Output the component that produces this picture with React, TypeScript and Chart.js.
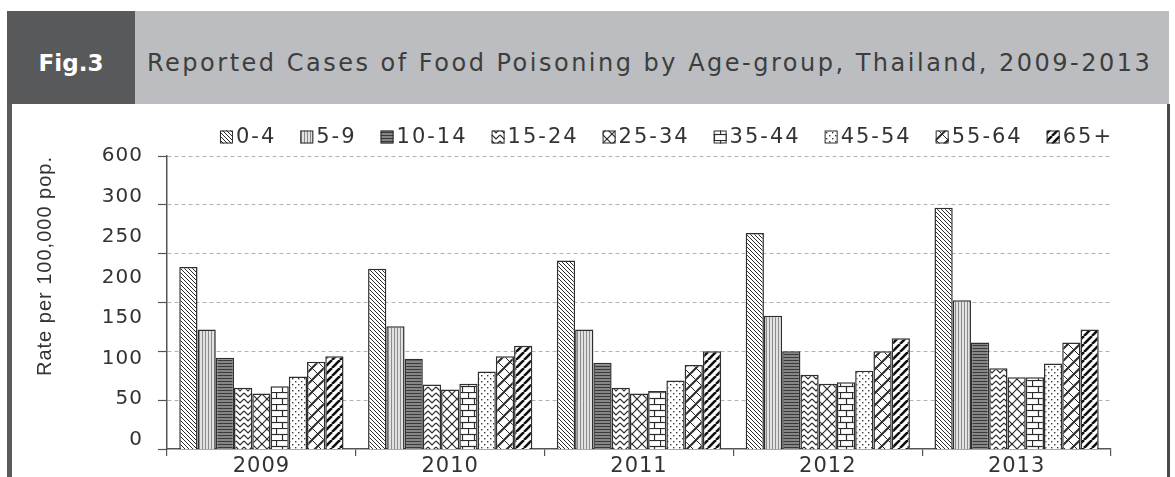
import React, { useEffect, useRef } from 'react';
import { Chart, registerables } from 'chart.js';

Chart.register(...registerables);

// Reporting years (category axis)
const years = ['2009', '2010', '2011', '2012', '2013'];

// Age groups, one bar series each
const ageGroups = ['0-4', '5-9', '10-14', '15-24', '25-34', '35-44', '45-54', '55-64', '65+'];

// Reported food poisoning, rate per 100,000 population, 2009..2013
const rateAge0to4 = [213, 211, 221, 255, 286];
const rateAge5to9 = [136, 140, 136, 153, 172];
const rateAge10to14 = [101, 100, 95, 109, 120];
const rateAge15to24 = [64, 68, 64, 80, 88];
const rateAge25to34 = [57, 62, 57, 69, 77];
const rateAge35to44 = [66, 69, 60, 71, 77];
const rateAge45to54 = [78, 84, 73, 85, 94];
const rateAge55to64 = [96, 103, 92, 109, 120];
const rateAge65plus = [103, 116, 109, 125, 136];

const seriesValues = [
  rateAge0to4,
  rateAge5to9,
  rateAge10to14,
  rateAge15to24,
  rateAge25to34,
  rateAge35to44,
  rateAge45to54,
  rateAge55to64,
  rateAge65plus,
];

// Value axis labels; the top step carries the 600 mark of the broken axis
const yTickValues = [0, 50, 100, 150, 200, 250, 300, 350];
const yTickLabels = ['0', '50', '100', '150', '200', '250', '300', '600'];
const yAxisMin = -11.5;
const yAxisMax = 350;

// Dashed guide lines and tick marks of the plot frame
const guideMax = 300;
const guideStep = 50;

const figureTag = 'Fig.3';
const figureTitle = 'Reported Cases of Food Poisoning by Age-group, Thailand, 2009-2013';
const yAxisTitle = 'Rate per 100,000 pop.';

const FONT = '"DejaVu Sans", Verdana, sans-serif';
const INK = '#333333';

type Hatch =
  | 'fineDown'
  | 'fineVertical'
  | 'darkHorizontal'
  | 'zigzag'
  | 'diamond'
  | 'brick'
  | 'dots'
  | 'trellis'
  | 'boldUp';

const hatches: Hatch[] = [
  'fineDown',
  'fineVertical',
  'darkHorizontal',
  'zigzag',
  'diamond',
  'brick',
  'dots',
  'trellis',
  'boldUp',
];

const hatchTile: Record<Hatch, [number, number]> = {
  fineDown: [4, 4],
  fineVertical: [3, 3],
  darkHorizontal: [4, 3],
  zigzag: [8, 6],
  diamond: [10, 10],
  brick: [12, 12],
  dots: [6, 6],
  trellis: [12, 12],
  boldUp: [8, 8],
};

// Monochrome fill patterns, one per age group
function makeHatch(ctx: CanvasRenderingContext2D, kind: Hatch): CanvasPattern | string {
  const [w, h] = hatchTile[kind];
  const tile = document.createElement('canvas');
  tile.width = w;
  tile.height = h;
  const t = tile.getContext('2d')!;
  t.fillStyle = '#ffffff';
  t.fillRect(0, 0, w, h);
  t.strokeStyle = '#2b2b2b';
  t.lineWidth = 1;
  const seg = (x1: number, y1: number, x2: number, y2: number) => {
    t.beginPath();
    t.moveTo(x1, y1);
    t.lineTo(x2, y2);
    t.stroke();
  };
  switch (kind) {
    case 'fineDown':
      for (const k of [-w, 0, w]) seg(k, 0, k + w, h);
      break;
    case 'fineVertical':
      t.fillStyle = '#e2e2e2';
      t.fillRect(0, 0, w, h);
      t.strokeStyle = '#8c8c8c';
      seg(1.5, 0, 1.5, h);
      break;
    case 'darkHorizontal':
      t.fillStyle = '#9a9a9a';
      t.fillRect(0, 0, w, h);
      t.strokeStyle = '#3a3a3a';
      t.lineWidth = 1.4;
      seg(0, 1.5, w, 1.5);
      break;
    case 'zigzag':
      t.lineWidth = 1.2;
      t.beginPath();
      t.moveTo(0, 1);
      t.lineTo(w / 2, h - 1);
      t.lineTo(w, 1);
      t.stroke();
      break;
    case 'diamond':
      t.lineWidth = 1.2;
      for (const k of [-w, 0, w]) {
        seg(k, 0, k + w, h);
        seg(k + w, 0, k, h);
      }
      break;
    case 'brick':
      t.lineWidth = 1.2;
      seg(0, 0.5, w, 0.5);
      seg(0, h / 2 + 0.5, w, h / 2 + 0.5);
      seg(0.5, 0, 0.5, h / 2);
      seg(w / 2 + 0.5, h / 2, w / 2 + 0.5, h);
      break;
    case 'dots':
      t.fillStyle = '#3a3a3a';
      t.fillRect(1, 1, 1.4, 1.4);
      t.fillRect(4, 4, 1.4, 1.4);
      break;
    case 'trellis':
      t.lineWidth = 1;
      for (const k of [-w, 0, w]) seg(k, 0, k + w, h);
      t.lineWidth = 2;
      for (const k of [-w, 0, w]) seg(k, h, k + w, 0);
      break;
    case 'boldUp':
      t.strokeStyle = '#111111';
      t.lineWidth = 2.6;
      for (const k of [-w, 0, w]) seg(k, h, k + w, 0);
      break;
  }
  return ctx.createPattern(tile, 'repeat') ?? '#999999';
}

// Slight tracking for all chart text
const textSpacing = {
  id: 'textSpacing',
  beforeDraw(chart: Chart) {
    (chart.ctx as any).letterSpacing = '1px';
  },
};

// Single-row legend above the plot, right-aligned with the frame
const LEGEND_FONT_SIZE = 21;
const LEGEND_BOX = 13;
const LEGEND_ICON_GAP = 3;
const LEGEND_ITEM_GAP = 24;
const LEGEND_RISE = 19;

const legendRow = {
  id: 'legendRow',
  afterDraw(chart: Chart) {
    const { ctx, chartArea } = chart;
    ctx.save();
    ctx.font = `${LEGEND_FONT_SIZE}px ${FONT}`;
    (ctx as any).letterSpacing = '2px';
    const items = chart.data.datasets.map((ds) => ({
      label: String(ds.label),
      fill: ds.backgroundColor as any,
      width: ctx.measureText(String(ds.label)).width,
    }));
    const total =
      items.reduce((sum, it) => sum + LEGEND_BOX + LEGEND_ICON_GAP + it.width, 0) +
      LEGEND_ITEM_GAP * (items.length - 1);
    let x = chartArea.right + 2 - total;
    const y = chartArea.top - LEGEND_RISE;
    ctx.textBaseline = 'middle';
    ctx.textAlign = 'left';
    for (const it of items) {
      ctx.fillStyle = it.fill;
      ctx.fillRect(x, y - LEGEND_BOX / 2, LEGEND_BOX, LEGEND_BOX);
      ctx.strokeStyle = '#2b2b2b';
      ctx.lineWidth = 1;
      ctx.strokeRect(x + 0.5, y - LEGEND_BOX / 2 + 0.5, LEGEND_BOX - 1, LEGEND_BOX - 1);
      ctx.fillStyle = INK;
      ctx.fillText(it.label, x + LEGEND_BOX + LEGEND_ICON_GAP, y + 1);
      x += LEGEND_BOX + LEGEND_ICON_GAP + it.width + LEGEND_ITEM_GAP;
    }
    ctx.restore();
  },
};

// Width of the labelled value axis (title + tick labels)
const VALUE_AXIS_WIDTH = 146;

export default function App() {
  const canvasRef = useRef<HTMLCanvasElement | null>(null);

  useEffect(() => {
    const canvas = canvasRef.current;
    if (!canvas) return;
    const ctx = canvas.getContext('2d')!;
    const fills = hatches.map((h) => makeHatch(ctx, h));

    const chart = new Chart(canvas, {
      type: 'bar',
      data: {
        labels: years,
        datasets: ageGroups.map((group, i) => ({
          label: group,
          data: seriesValues[i],
          backgroundColor: fills[i] as any,
          borderColor: '#2f2f2f',
          borderWidth: 1.5,
          base: yAxisMin,
          categoryPercentage: 0.87,
          barPercentage: 1,
        })),
      },
      options: {
        responsive: false,
        animation: false,
        events: [],
        layout: { padding: { top: 52, right: 55, bottom: 0, left: 0 } },
        plugins: {
          legend: { display: false },
          tooltip: { enabled: false },
          title: { display: false },
        },
        scales: {
          x: {
            type: 'category',
            offset: true,
            grid: {
              display: true,
              offset: true,
              drawOnChartArea: false,
              drawTicks: true,
              tickLength: 7,
              color: '#555555',
              lineWidth: 1.2,
            },
            border: { display: true, color: '#555555', width: 1.5 },
            ticks: {
              color: INK,
              padding: 0,
              font: { family: FONT, size: 21, lineHeight: 1 },
            },
          },
          y: {
            type: 'linear',
            position: 'left',
            weight: 1,
            min: yAxisMin,
            max: yAxisMax,
            grid: { display: false, drawTicks: false },
            border: { display: false },
            afterBuildTicks: (scale: any) => {
              scale.ticks = yTickValues.map((v) => ({ value: v }));
            },
            afterFit: (scale: any) => {
              scale.width = VALUE_AXIS_WIDTH;
            },
            ticks: {
              color: INK,
              padding: 15,
              autoSkip: false,
              font: { family: FONT, size: 20 },
              callback: (_v: any, index: number) => yTickLabels[index] ?? '',
            },
            title: {
              display: true,
              text: yAxisTitle,
              align: 'end',
              color: INK,
              font: { family: '"Liberation Sans", Arial, sans-serif', size: 20 },
              padding: { top: 21, bottom: 0 },
            },
          },
          yGuide: {
            type: 'linear',
            position: 'left',
            weight: 0,
            min: 0,
            max: guideMax,
            ticks: { display: false, stepSize: guideStep },
            grid: {
              display: true,
              drawOnChartArea: true,
              drawTicks: true,
              tickLength: 9,
              tickWidth: 1.2,
              tickColor: '#555555',
              lineWidth: 1,
              color: (c: any) =>
                c.tick && c.tick.value === 0 ? 'rgba(0,0,0,0)' : '#b3b3b3',
            },
            border: { display: true, color: '#555555', width: 1.5, dash: [4, 3] },
          },
        },
      } as any,
      plugins: [textSpacing, legendRow],
    });

    return () => chart.destroy();
  }, []);

  return (
    <div
      style={{
        position: 'absolute',
        left: 0,
        top: 0,
        width: 1175,
        height: 477,
        overflow: 'hidden',
        background: '#ffffff',
      }}
    >
      <div
        style={{
          position: 'absolute',
          left: 7,
          top: 11,
          width: 128,
          height: 93,
          background: '#58595b',
          color: '#ffffff',
          font: `bold 23px ${FONT}`,
          display: 'flex',
          alignItems: 'center',
          justifyContent: 'center',
          paddingTop: 10,
          boxSizing: 'border-box',
        }}
      >
        {figureTag}
      </div>
      <div
        style={{
          position: 'absolute',
          left: 135,
          top: 11,
          width: 1034,
          height: 93,
          background: '#bcbdc0',
          color: '#3d3d3d',
          font: `24px ${FONT}`,
          letterSpacing: '2.5px',
          display: 'flex',
          alignItems: 'center',
          paddingLeft: 12,
          paddingTop: 10,
          boxSizing: 'border-box',
          whiteSpace: 'nowrap',
        }}
      >
        {figureTitle}
      </div>
      <div
        style={{
          position: 'absolute',
          left: 7,
          top: 104,
          width: 5,
          height: 373,
          background: '#5a5a5a',
        }}
      />
      <div
        style={{
          position: 'absolute',
          left: 1167,
          top: 104,
          width: 3,
          height: 373,
          background: '#4a4a4a',
        }}
      />
      <canvas
        ref={canvasRef}
        width={1154}
        height={373}
        style={{ position: 'absolute', left: 12, top: 104, width: 1154, height: 373 }}
      />
    </div>
  );
}
